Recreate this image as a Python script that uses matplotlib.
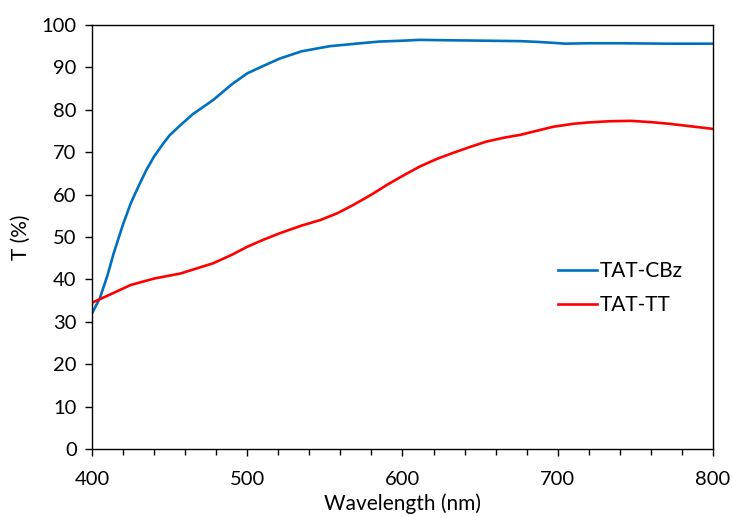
import matplotlib.pyplot as plt
from matplotlib.ticker import MultipleLocator

plt.rcParams['font.family'] = ['Lato', 'DejaVu Sans']

# transmittance spectra
wl_cbz = [400, 405, 410, 414, 420, 425, 430, 435, 440, 446, 450, 457, 465, 478,
          490, 500, 510, 521, 535, 553, 570, 585, 600, 611, 630, 654, 676, 688,
          697, 705, 720, 740, 770, 800]
t_cbz = [32.0, 35.5, 41.0, 46.2, 53.0, 58.0, 62.0, 65.8, 69.0, 72.1, 74.0, 76.4,
         79.0, 82.3, 86.0, 88.6, 90.3, 92.1, 93.8, 95.0, 95.6, 96.1, 96.3, 96.5,
         96.4, 96.3, 96.2, 96.0, 95.8, 95.6, 95.7, 95.7, 95.6, 95.6]

wl_tt = [400, 412, 425, 440, 457, 478, 490, 500, 510, 521, 535, 547, 558, 568,
         580, 590, 600, 611, 622, 633, 644, 654, 665, 676, 687, 697, 710, 719,
         733, 747, 760, 772, 786, 800]
t_tt = [34.5, 36.5, 38.7, 40.2, 41.4, 43.8, 45.8, 47.7, 49.3, 50.9, 52.7, 54.0,
        55.6, 57.5, 60.0, 62.3, 64.4, 66.6, 68.4, 69.9, 71.3, 72.5, 73.4, 74.1,
        75.1, 76.0, 76.7, 77.0, 77.3, 77.4, 77.1, 76.7, 76.1, 75.5]

fig = plt.figure(figsize=(7.32, 5.17), dpi=100)
ax = fig.add_axes([0.1257, 0.1315, 0.8483, 0.8201])

ax.plot(wl_cbz, t_cbz, color='#0070C0', lw=1.9, label='TAT-CBz')
ax.plot(wl_tt, t_tt, color='#FF0000', lw=1.9, label='TAT-TT')

ax.set_xlim(400, 800)
ax.set_ylim(0, 100)
ax.xaxis.set_major_locator(MultipleLocator(100))
ax.xaxis.set_minor_locator(MultipleLocator(20))
ax.yaxis.set_major_locator(MultipleLocator(10))
ax.tick_params(which='major', direction='out', length=5, width=1, labelsize=14.5)
ax.tick_params(which='minor', direction='out', length=4, width=1)
ax.tick_params(axis='x', pad=11)
ax.tick_params(axis='y', pad=6)

for s in ax.spines.values():
    s.set_linewidth(1)

ax.set_xlabel('Wavelength (nm)', fontsize=15, labelpad=4)
ax.set_ylabel('T (%)', fontsize=15, labelpad=8)

ax.legend(loc='upper left', bbox_to_anchor=(0.72, 0.488), frameon=False,
          fontsize=15, handlelength=1.9, handletextpad=0.1, labelspacing=0.7)

plt.savefig('out.png', dpi=100)
